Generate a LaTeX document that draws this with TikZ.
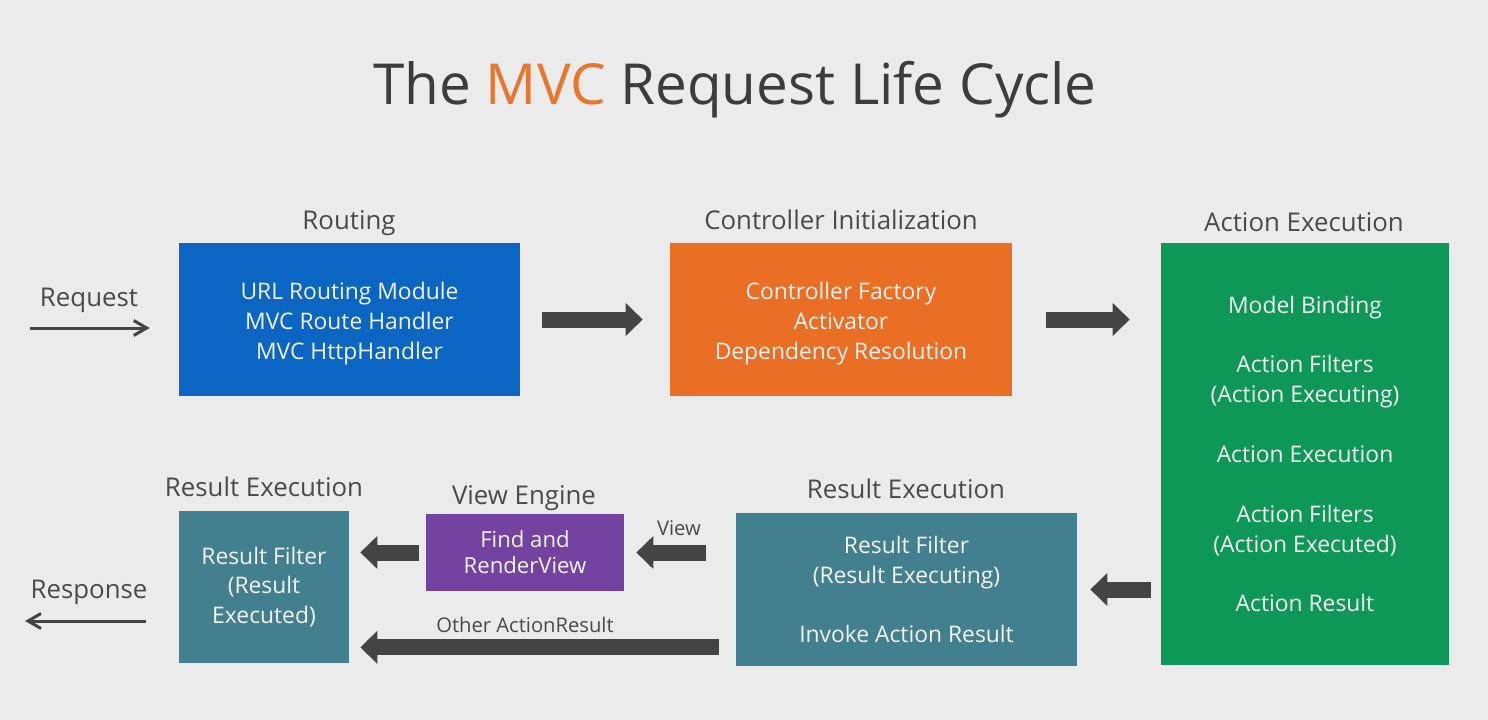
\documentclass[tikz,border=0pt]{standalone}
\usepackage{fontspec}
\setmainfont{Open Sans}
\usetikzlibrary{arrows.meta,calc}
\definecolor{bg}{HTML}{EBEBEB}
\definecolor{titlegray}{HTML}{3C3C3C}
\definecolor{labgray}{HTML}{4A4A4A}
\definecolor{mvcorange}{HTML}{E8772E}
\definecolor{arrowgray}{HTML}{444444}
\definecolor{cblue}{HTML}{0B65C2}
\definecolor{corange}{HTML}{EB6E25}
\definecolor{cgreen}{HTML}{0E9857}
\definecolor{cteal}{HTML}{42808F}
\definecolor{cpurple}{HTML}{7443A1}
\definecolor{boxtext}{HTML}{F4F4F4}
\begin{document}
\begin{tikzpicture}[x=0.02cm,y=-0.02cm,
  box/.style={inner sep=0pt, text=boxtext, align=center,
    font=\fontsize{13}{17}\selectfont},
  lab/.style={inner sep=0pt, anchor=base, text=labgray,
    font=\fontsize{14.7}{17}\selectfont},
  smalllab/.style={inner sep=0pt, anchor=base, text=labgray,
    font=\fontsize{11.5}{14}\selectfont},
  fat/.style={draw=arrowgray, line width=0.32cm,
    -{Triangle[length=0.34cm,width=0.64cm]}},
  thinarrow/.style={draw=arrowgray, line width=0.06cm,
    -{Straight Barb[length=0.26cm,width=0.3cm,line width=0.06cm]}}
]
\fill[bg] (0,0) rectangle (1488,720);
\useasboundingbox (0,0) rectangle (1488,720);

% title
\node[inner sep=0pt, anchor=base, text=titlegray,
  font=\fontsize{32.2}{36}\selectfont] (title) at (735,104)
  {The {\color{mvcorange}MVC} Request Life Cycle};

% boxes
\node[box, fill=cblue, minimum width=6.82cm, minimum height=3.06cm] (routing) at (349.5,319.5) {};
\node[box] (routingtxt) at ([yshift=-0.08cm]routing.center)
  {URL Routing Module\\MVC Route Handler\\MVC HttpHandler};
\node[box, fill=corange, minimum width=6.84cm, minimum height=3.06cm] (ctrl) at (841,319.5) {};
\node[box] (ctrltxt) at ([yshift=-0.08cm]ctrl.center)
  {Controller Factory\\Activator\\Dependency Resolution};
\node[box, fill=cgreen, minimum width=5.76cm, minimum height=8.44cm] (action) at (1305,454)
  {Model Binding\\[17pt]Action Filters\\(Action Executing)\\[17pt]Action Execution\\[17pt]Action Filters\\(Action Executed)\\[17pt]Action Result};
\node[box, fill=cteal, minimum width=6.82cm, minimum height=3.06cm] (resR) at (906.5,589.5)
  {Result Filter\\(Result Executing)\\[17pt]Invoke Action Result};
\node[box, fill=cpurple, minimum width=3.96cm, minimum height=1.54cm,
  font=\fontsize{12.6}{15}\selectfont] (view) at (525,552.5)
  {Find and\\RenderView};
\node[box, fill=cteal, minimum width=3.4cm, minimum height=3.04cm] (resL) at (264,587)
  {Result Filter\\(Result\\Executed)};

% labels
\node[lab] (lrouting) at (349,229) {Routing};
\node[lab] (lctrl) at (841,229) {Controller Initialization};
\node[lab] (laction) at (1304,231) {Action Execution};
\node[lab] (lresR) at (906,498) {Result Execution};
\node[lab] (lview) at (524,504) {View Engine};
\node[lab] (lresL) at (264,496) {Result Execution};
\node[lab] (lreq) at (89,306) {Request};
\node[lab] (lresp) at (89,598) {Response};
\node[smalllab] (lviewarrow) at (679,535) {View};
\node[smalllab] (lother) at (525,632) {Other ActionResult};

% thin arrows
\coordinate (reqS) at (30,328);
\draw[thinarrow, shorten >=0.58cm] (reqS) -- (reqS -| routing.west);
\coordinate (respE) at (25,621);
\draw[thinarrow, shorten <=0.66cm] (resL.west |- respE) -- (respE);

% fat arrows
\draw[fat, shorten <=0.44cm, shorten >=0.54cm] (routing.east) -- (ctrl.west);
\draw[fat, shorten <=0.68cm, shorten >=0.62cm] (ctrl.east) -- (ctrl.east -| action.west);
\draw[fat, shorten <=0.2cm, shorten >=0.26cm] (action.west |- resR.east) -- (resR.east);
\draw[fat, shorten <=0.6cm, shorten >=0.24cm] (resR.west |- view.east) -- (view.east);
\draw[fat, shorten <=0.14cm, shorten >=0.22cm] (view.west) -- (view.west -| resL.east);
\coordinate (oa) at ($(resR.south west)+(0,-19)$);
\draw[fat, shorten <=0.34cm, shorten >=0.22cm] (oa) -- (oa -| resL.east);
\end{tikzpicture}
\end{document}
